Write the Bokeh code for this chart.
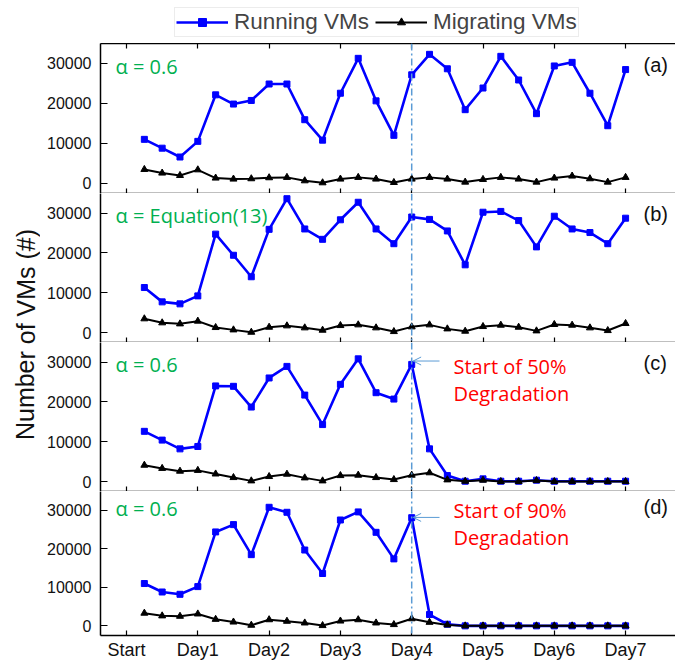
from bokeh.plotting import figure
from bokeh.layouts import row, column
from bokeh.models import (Range1d, LinearAxis, FixedTicker, Span, Label, Arrow,
                          OpenHead, Legend, LegendItem)
from bokeh.embed import file_html
from bokeh.resources import INLINE

# ---------------- data ----------------
times = [0.25, 0.5, 0.75, 1.0, 1.25, 1.5, 1.75, 2.0, 2.25, 2.5, 2.75, 3.0, 3.25, 3.5,
         3.75, 4.0, 4.25, 4.5, 4.75, 5.0, 5.25, 5.5, 5.75, 6.0, 6.25, 6.5, 6.75, 7.0]

day_ticks = [0, 1, 2, 3, 4, 5, 6, 7]
day_labels = ["Start", "Day1", "Day2", "Day3", "Day4", "Day5", "Day6", "Day7"]
y_ticks = [0, 10000, 20000, 30000]

running_a = [11000, 8800, 6600, 10500, 22100, 19800, 20700, 24800, 24800, 15900, 10800, 22500, 31200, 20600,
             12000, 27100, 32200, 28600, 18400, 23800, 31700, 25800, 17400, 29300, 30200, 22500, 14400, 28400]
migrating_a = [3500, 2600, 2000, 3400, 1350, 1100, 1180, 1430, 1520, 670, 170, 1100, 1520, 1100,
               250, 1100, 1520, 1100, 340, 1010, 1520, 1100, 340, 1350, 1850, 1180, 340, 1520]

running_b = [11300, 7700, 7200, 9200, 24700, 19400, 14000, 25900, 33600, 26000, 23400, 28300, 32700, 26000,
             22300, 29000, 28400, 25500, 17000, 30200, 30400, 28100, 21500, 29200, 26000, 25100, 22300, 28700]
migrating_b = [3450, 2440, 2180, 2860, 1260, 670, 80, 1340, 1680, 1180, 590, 1760, 1930, 1180,
               250, 1430, 1930, 920, 340, 1510, 1850, 1340, 420, 2020, 1850, 1180, 500, 2270]

running_c = [12600, 10400, 8200, 8800, 24000, 23900, 18700, 26000, 28900, 21700, 14300, 24400, 30800, 22300,
             20700, 29400, 8200, 1500, 80, 670, 80, 80, 340, 80, 80, 80, 80, 80]
migrating_c = [4100, 3300, 2600, 2800, 1900, 1000, 170, 1260, 1850, 920, 170, 1500, 1600, 1000,
               500, 1600, 2200, 420, 80, 340, 0, 0, 250, 0, 0, 0, 0, 0]

running_d = [11000, 8800, 8200, 10200, 24400, 26300, 18500, 30800, 29500, 19700, 13600, 27500, 29600, 24300,
             17400, 28100, 2950, 420, 0, 0, 0, 0, 0, 0, 0, 0, 0, 0]
migrating_d = [3300, 2600, 2500, 3100, 1700, 1000, 170, 1600, 1200, 760, 80, 1260, 1600, 760,
               340, 1850, 930, 250, 0, 0, 0, 0, 0, 0, 0, 0, 0, 0]

panel_tags = ["(a)", "(b)", "(c)", "(d)"]
alpha_texts = ["\u03b1 = 0.6", "\u03b1 = Equation(13)", "\u03b1 = 0.6", "\u03b1 = 0.6"]
degradation_texts = [None, None, "Start of 50%", "Start of 90%"]
arrow_y = [None, None, 30250, 28170]
degradation_day = 4
series_names = ["Running VMs", "Migrating VMs"]

series = [(running_a, migrating_a), (running_b, migrating_b),
          (running_c, migrating_c), (running_d, migrating_d)]

# ---------------- styling ----------------
BLUE = "#0000FF"
BLACK = "#000000"
GREEN = "#00B050"
RED = "#FF0000"
LBLUE = "#5B9BD5"
ARIAL = "Liberation Sans"
CAL = "Open Sans"

FIG_W = 635
heights = [150, 149, 149, 171]


def tick_only_axis(ticks):
    ax = LinearAxis(ticker=FixedTicker(ticks=ticks))
    ax.major_tick_in = 5
    ax.major_tick_out = 0
    ax.minor_tick_line_color = None
    ax.axis_line_width = 1.5
    ax.major_tick_line_width = 1.2
    ax.major_label_text_font_size = "1px"
    ax.major_label_text_color = None
    ax.major_label_standoff = 0
    return ax


def draw_series(p, run, mig):
    bl = p.line(times, run, line_color=BLUE, line_width=2.6)
    bs = p.scatter(times, run, marker="square", size=6, fill_color=BLUE, line_color=BLUE)
    kl = p.line(times, mig, line_color=BLACK, line_width=2)
    ks = p.scatter(times, mig, marker="triangle", size=7, fill_color=BLACK, line_color=BLACK)
    return bl, bs, kl, ks


figs = []
for k in range(4):
    p = figure(width=FIG_W, height=heights[k], output_backend="svg", toolbar_location=None,
               x_range=Range1d(-0.365, 7.7), y_range=Range1d(-2500, 34900),
               x_axis_location=None, y_axis_location=None,
               min_border_left=60, min_border_right=0, min_border_top=0,
               min_border_bottom=0)
    p.outline_line_color = None
    p.grid.visible = False
    p.background_fill_color = "white"

    # y axis
    ya = LinearAxis(ticker=FixedTicker(ticks=y_ticks))
    ya.major_tick_in = 7
    ya.major_tick_out = 0
    ya.minor_tick_line_color = None
    ya.axis_line_width = 1.5
    ya.major_tick_line_width = 1.2
    ya.major_label_text_font = ARIAL
    ya.major_label_text_font_size = "16px"
    ya.major_label_standoff = 9
    ya.major_label_text_color = "#111111"
    p.add_layout(ya, "left")

    # bottom x axis
    if k == 3:
        xa = LinearAxis(ticker=FixedTicker(ticks=day_ticks),
                        major_label_overrides={t: l for t, l in zip(day_ticks, day_labels)})
        xa.major_tick_in = 5
        xa.major_tick_out = 0
        xa.minor_tick_line_color = None
        xa.axis_line_width = 1.5
        xa.major_tick_line_width = 1.2
        xa.major_label_text_font = ARIAL
        xa.major_label_text_font_size = "18px"
        xa.major_label_standoff = 4
        xa.major_label_text_color = "#111111"
    else:
        xa = tick_only_axis(day_ticks)
    p.add_layout(xa, "below")

    if k == 0:
        p.add_layout(tick_only_axis(day_ticks), "above")

    run, mig = series[k]
    p.add_layout(Span(location=degradation_day, dimension="height", line_color=LBLUE,
                      line_width=1.5, line_dash="7 3 2 3"))
    draw_series(p, run, mig)

    # annotations
    p.add_layout(Label(x=15, y=127, x_units="screen", y_units="screen", text=alpha_texts[k],
                       text_font=CAL, text_font_size="20px", text_color=GREEN,
                       text_baseline="middle", text_align="left"))
    p.add_layout(Label(x=543, y=129, x_units="screen", y_units="screen", text=panel_tags[k],
                       text_font=ARIAL, text_font_size="20px", text_color="#111111",
                       text_baseline="middle", text_align="left"))
    if degradation_texts[k] is not None:
        p.add_layout(Label(x=353, y=125, x_units="screen", y_units="screen",
                           text=degradation_texts[k], text_font=CAL, text_font_size="20px",
                           text_color=RED, text_baseline="middle", text_align="left"))
        p.add_layout(Label(x=353, y=98, x_units="screen", y_units="screen",
                           text="Degradation", text_font=CAL, text_font_size="20px",
                           text_color=RED, text_baseline="middle", text_align="left"))
        p.add_layout(Arrow(x_start=4.39, y_start=arrow_y[k], x_end=degradation_day + 0.02,
                           y_end=arrow_y[k], line_color=LBLUE, line_width=1,
                           end=OpenHead(size=8, line_color=LBLUE, line_width=1)))
    figs.append(p)

# legend figure (top strip); its series sit outside the strip's view, only the legend shows
lf = figure(width=FIG_W, height=43, output_backend="svg", toolbar_location=None,
            x_range=Range1d(0, 1), y_range=Range1d(-1, 0),
            x_axis_location=None, y_axis_location=None, min_border=0)
lf.outline_line_color = None
lf.grid.visible = False
lbl, lbs, lkl, lks = draw_series(lf, running_a, migrating_a)
leg = Legend(items=[LegendItem(label=series_names[0], renderers=[lbl, lbs]),
                    LegendItem(label=series_names[1], renderers=[lkl, lks])],
             orientation="horizontal", location=(74, 6),
             glyph_width=52, glyph_height=20, label_standoff=6, spacing=6,
             padding=1, margin=0, label_text_font=ARIAL, label_text_font_size="22.5px",
             border_line_color="#d9d9d9", border_line_width=1,
             background_fill_color="white", background_fill_alpha=1.0)
lf.add_layout(leg, "center")

# y-axis title figure
lab = figure(width=40, height=662, output_backend="svg", toolbar_location=None,
             x_range=Range1d(0, 1), y_range=Range1d(0, 1),
             x_axis_location=None, y_axis_location=None, min_border=0)
lab.outline_line_color = None
lab.grid.visible = False
lab.add_layout(Label(x=25, y=328, x_units="screen", y_units="screen", text="Number of VMs (#)",
                     angle=1.5707963, text_font=ARIAL, text_font_size="25px",
                     text_color="#111111", text_align="center", text_baseline="middle"))

layout = row(lab, column(lf, *figs, spacing=0), spacing=0)
open("out.html", "w").write(file_html(layout, INLINE))
